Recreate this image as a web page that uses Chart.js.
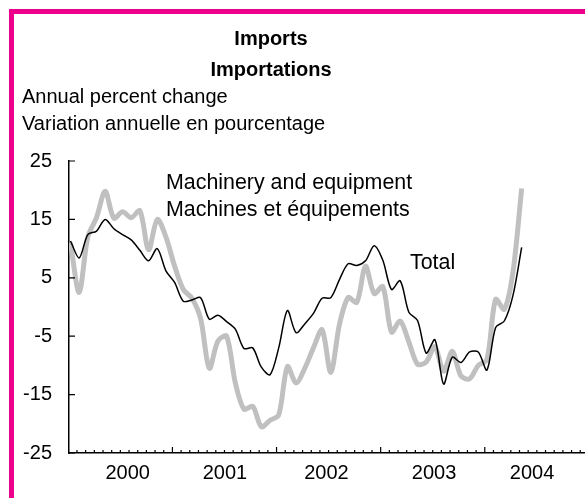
<!DOCTYPE html>
<html><head><meta charset="utf-8">
<script src="https://cdn.jsdelivr.net/npm/chart.js@4.4.1/dist/chart.umd.min.js"></script>
<style>
html,body{margin:0;padding:0;background:#fff;overflow:hidden;}
#wrap{position:relative;width:585px;height:498px;overflow:hidden;}
#frame{position:absolute;left:9px;top:9px;width:620px;height:540px;border-left:5px solid #EC008C;border-top:5px solid #EC008C;pointer-events:none;}
canvas{position:absolute;left:0;top:0;}
</style></head><body>
<div id="wrap"><canvas id="c" width="585" height="498"></canvas><div id="frame"></div></div>
<script>
// Months Jan 2000 .. May 2004
const months = [
 '2000-01','2000-02','2000-03','2000-04','2000-05','2000-06','2000-07','2000-08','2000-09','2000-10','2000-11','2000-12',
 '2001-01','2001-02','2001-03','2001-04','2001-05','2001-06','2001-07','2001-08','2001-09','2001-10','2001-11','2001-12',
 '2002-01','2002-02','2002-03','2002-04','2002-05','2002-06','2002-07','2002-08','2002-09','2002-10','2002-11','2002-12',
 '2003-01','2003-02','2003-03','2003-04','2003-05','2003-06','2003-07','2003-08','2003-09','2003-10','2003-11','2003-12',
 '2004-01','2004-02','2004-03','2004-04','2004-05'
];
// Total imports, annual % change
const total = [
 11.3, 8.4, 12.4, 13.0, 15.0, 13.4, 12.4, 11.5, 9.7, 7.9, 10.0, 6.2,
 4.2, 1.0, 1.2, 1.6, -2.1, -1.4, -2.5, -3.8, -7.1, -7.0, -10.3, -11.6,
 -7.0, -0.6, -4.4, -2.9, -1.1, 1.5, 1.6, 4.7, 7.4, 7.1, 7.9, 10.5,
 8.0, 3.0, 4.5, -0.9, -2.3, -7.9, -5.6, -13.2, -8.6, -9.5, -7.7, -7.7,
 -10.8, -3.5, -2.4, 2.0, 10.2
];
// Machinery and equipment imports, annual % change
const machinery = [
 11.0, 2.5, 12.0, 15.3, 19.8, 15.2, 16.3, 15.3, 16.5, 9.8, 15.0, 12.0,
 7.0, 3.0, 1.5, -2.0, -10.5, -5.8, -5.0, -13.0, -17.5, -17.0, -20.5, -19.4,
 -18.5, -10.2, -13.0, -10.5, -7.0, -3.9, -11.2, -3.0, 1.6, 0.8, 7.0, 2.3,
 3.5, -4.3, -2.4, -6.0, -9.8, -9.4, -6.8, -11.0, -7.6, -11.8, -12.3, -10.0,
 -9.0, 1.3, -0.4, 6.0, 20.3
];
const yearLabels = ['2000','2001','2002','2003','2004'];
const yearLabelPos = [6.6, 17.8, 29.5, 41.9, 53.2];
const yTicks = [-25, -15, -5, 5, 15, 25];

const FONT = '"Liberation Sans", Arial, sans-serif';

const decor = {
  id: 'decor',
  afterDraw(chart) {
    const {ctx, scales: {x, y}, chartArea: a} = chart;
    ctx.save();
    ctx.strokeStyle = '#000';
    ctx.lineWidth = 1.2;
    ctx.beginPath();
    yTicks.forEach(v => {
      const py = y.getPixelForValue(v);
      ctx.moveTo(a.left, py); ctx.lineTo(a.left + 6, py);
    });
    for (let b = 1; b <= 60; b++) {
      const px = x.getPixelForValue(b - 0.25);
      if (px > a.right) break;
      const len = (b % 12 === 0) ? 6 : 3;
      ctx.moveTo(px, a.bottom); ctx.lineTo(px, a.bottom - len);
    }
    ctx.stroke();
    ctx.fillStyle = '#000';
    ctx.textBaseline = 'middle';
    ctx.textAlign = 'center';
    ctx.font = 'bold 20px ' + FONT;
    ctx.fillText('Imports', 271, 39);
    ctx.fillText('Importations', 271, 70);
    ctx.textAlign = 'left';
    ctx.font = '20px ' + FONT;
    ctx.fillText('Annual percent change', 22, 97);
    ctx.fillText('Variation annuelle en pourcentage', 22, 124);
    ctx.font = '21.4px ' + FONT;
    ctx.fillText('Machinery and equipment', 166, 183);
    ctx.fillText('Machines et équipements', 166, 210);
    ctx.fillText('Total', 410, 263);
    ctx.restore();
  }
};

new Chart(document.getElementById('c'), {
  type: 'line',
  data: {
    datasets: [
      { label: 'Total', data: total.map((v, i) => ({x: i, y: v})), borderColor: '#000', borderWidth: 1.5,
        pointRadius: 0, tension: 0.3, order: 0 },
      { label: 'Machinery and equipment', data: machinery.map((v, i) => ({x: i, y: v})), borderColor: '#C0C0C0',
        borderWidth: 5, pointRadius: 0, tension: 0.3, order: 1 }
    ]
  },
  options: {
    responsive: false, animation: false, devicePixelRatio: 1,
    layout: { padding: { top: 161, left: 0, right: 0, bottom: 0 } },
    plugins: { legend: { display: false }, tooltip: { enabled: false }, title: { display: false } },
    scales: {
      x: {
        type: 'linear', min: -0.17, max: 59.3,
        grid: { display: false },
        border: { display: true, color: '#000', width: 1.5 },
        afterBuildTicks: s => { s.ticks = yearLabelPos.map(v => ({value: v})); },
        afterFit: s => { s.height = 45; },
        ticks: { autoSkip: false, maxRotation: 0, padding: 0, color: '#000', font: { size: 20, family: FONT },
          callback: (v, i) => yearLabels[i] }
      },
      y: {
        type: 'linear', min: -25, max: 25,
        grid: { display: false },
        border: { display: true, color: '#000', width: 1.5 },
        afterBuildTicks: s => { s.ticks = yTicks.map(v => ({value: v})); },
        afterFit: s => { s.width = 69; },
        ticks: { padding: 9, color: '#000', font: { size: 20, family: FONT }, callback: v => String(v) }
      }
    }
  },
  plugins: [decor]
});
</script>
</body></html>
